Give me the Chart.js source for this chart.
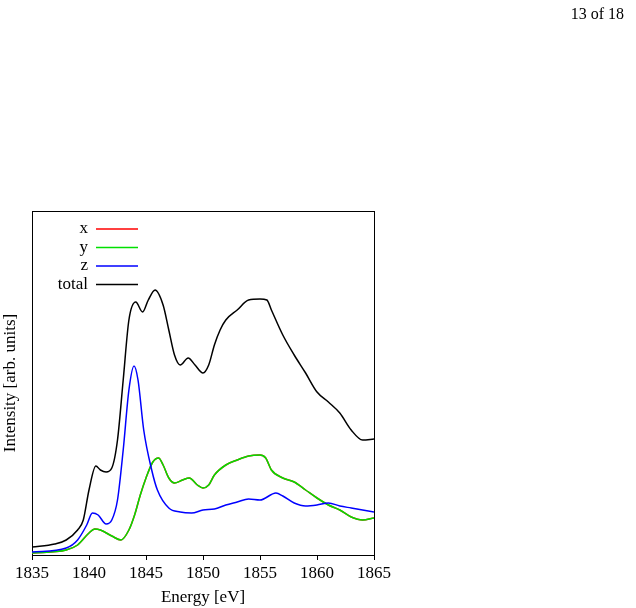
<!DOCTYPE html>
<html><head><meta charset="utf-8">
<script src="https://cdn.jsdelivr.net/npm/chart.js@4/dist/chart.umd.min.js"></script>
<style>body{margin:0;background:#fff;width:636px;height:608px;overflow:hidden;position:relative}
#pg{position:absolute;right:12px;top:5px;font:16px "Liberation Serif",serif}</style>
</head><body>
<div id="pg">13 of 18</div>
<canvas id="c" width="636" height="608"></canvas>
<script>
const xTicks=[1835,1840,1845,1850,1855,1860,1865];
const totalPts=[[1835,547],[1837,544],[1838,540],[1839,530],[1839.5,520],[1840,490],[1840.6,466],[1841,470],[1841.5,472],[1842,468],[1842.5,440],[1843,380],[1843.5,320],[1844.1,302],[1844.7,312],[1845.2,300],[1845.8,290],[1846.5,305],[1847,330],[1847.5,355],[1848,365],[1848.7,358],[1849.3,365],[1850,373],[1850.5,365],[1851,345],[1851.5,330],[1852,320],[1853,310],[1854,300],[1855,299],[1855.6,300],[1856,310],[1857,335],[1858,355],[1859,373],[1860,392],[1861,402],[1862,413],[1863,430],[1864,440],[1865,439]];
const zPts=[[1835,552],[1838,548],[1839,540],[1839.8,525],[1840.3,513],[1840.8,515],[1841.5,524],[1842,520],[1842.5,500],[1843,450],[1843.5,390],[1843.95,366],[1844.3,380],[1844.8,430],[1845.5,470],[1846,490],[1847,508],[1848,512],[1849,513],[1850,510],[1851,509],[1852,505],[1853,502],[1854,499],[1855,500],[1856.4,493],[1857,496],[1858,503],[1859,506],[1860,505],[1861,503],[1862,506],[1863,508],[1864,510],[1865,512]];
const yPts=[[1835,553],[1838,550],[1839,545],[1840,533],[1840.5,529],[1841,530],[1842,536],[1842.8,540],[1843.5,530],[1844,515],[1844.5,495],[1845,478],[1845.6,462],[1846.1,458],[1846.5,465],[1847,478],[1847.5,483],[1848.2,480],[1848.8,478],[1849.5,485],[1850,488],[1850.5,485],[1851,475],[1852,465],[1853,460],[1854,456],[1855,455],[1855.5,458],[1856,470],[1857,478],[1858,482],[1859,490],[1860,498],[1861,505],[1862,510],[1863,517],[1864,520],[1865,518]];
const xPts=yPts;
const conv=a=>a.map(p=>({x:p[0],y:(555-p[1])/344}));
const F='"Liberation Serif", serif';
const legendPlugin={id:'lg',afterDatasetsDraw(ch){const c=ch.ctx;const L=ch.chartArea.left;const T=ch.chartArea.top;
ch.data.datasets.forEach((d,i)=>{const y=T+18+i*18.5;c.save();c.font='17px '+F;c.fillStyle='#000';c.textAlign='right';c.textBaseline='middle';c.fillText(d.label,L+56,y);c.strokeStyle=d.borderColor;c.lineWidth=1.5;c.beginPath();c.moveTo(L+64,y);c.lineTo(L+106,y);c.stroke();c.restore();});}};
new Chart(document.getElementById('c'),{type:'line',
data:{datasets:[
{label:'x',data:conv(xPts),borderColor:'#ff0000',order:4},
{label:'y',data:conv(yPts),borderColor:'#00e000',order:3},
{label:'z',data:conv(zPts),borderColor:'#0000ff',order:2},
{label:'total',data:conv(totalPts),borderColor:'#000000',order:1}]},
options:{responsive:false,animation:false,
elements:{point:{radius:0},line:{borderWidth:1.5,tension:0.4,cubicInterpolationMode:'monotone'}},
layout:{padding:{left:0,top:203,right:254,bottom:0}},
plugins:{legend:{display:false},tooltip:{enabled:false}},
scales:{
x:{type:'linear',min:1835,max:1865,afterFit:s=>{s.height=53},afterBuildTicks:s=>{s.ticks=xTicks.map(v=>({value:v}))},
 ticks:{color:'#000',font:{family:F,size:17},maxRotation:0,callback:v=>String(v)},grid:{drawOnChartArea:false,color:'#000',tickLength:5},border:{color:'#000'},
 title:{display:true,text:'Energy [eV]',color:'#000',font:{family:F,size:17},padding:0}},
y:{min:0,max:1,afterFit:s=>{s.width=32},ticks:{display:false},grid:{display:false},border:{color:'#000'},
 title:{display:true,text:'Intensity [arb. units]',color:'#000',font:{family:F,size:17},padding:0}},
x2:{type:'linear',position:'top',min:1835,max:1865,ticks:{display:false},grid:{display:false},border:{color:'#000'}},
y2:{position:'right',min:0,max:1,ticks:{display:false},grid:{display:false},border:{color:'#000'}}
}},plugins:[legendPlugin]});
</script></body></html>
